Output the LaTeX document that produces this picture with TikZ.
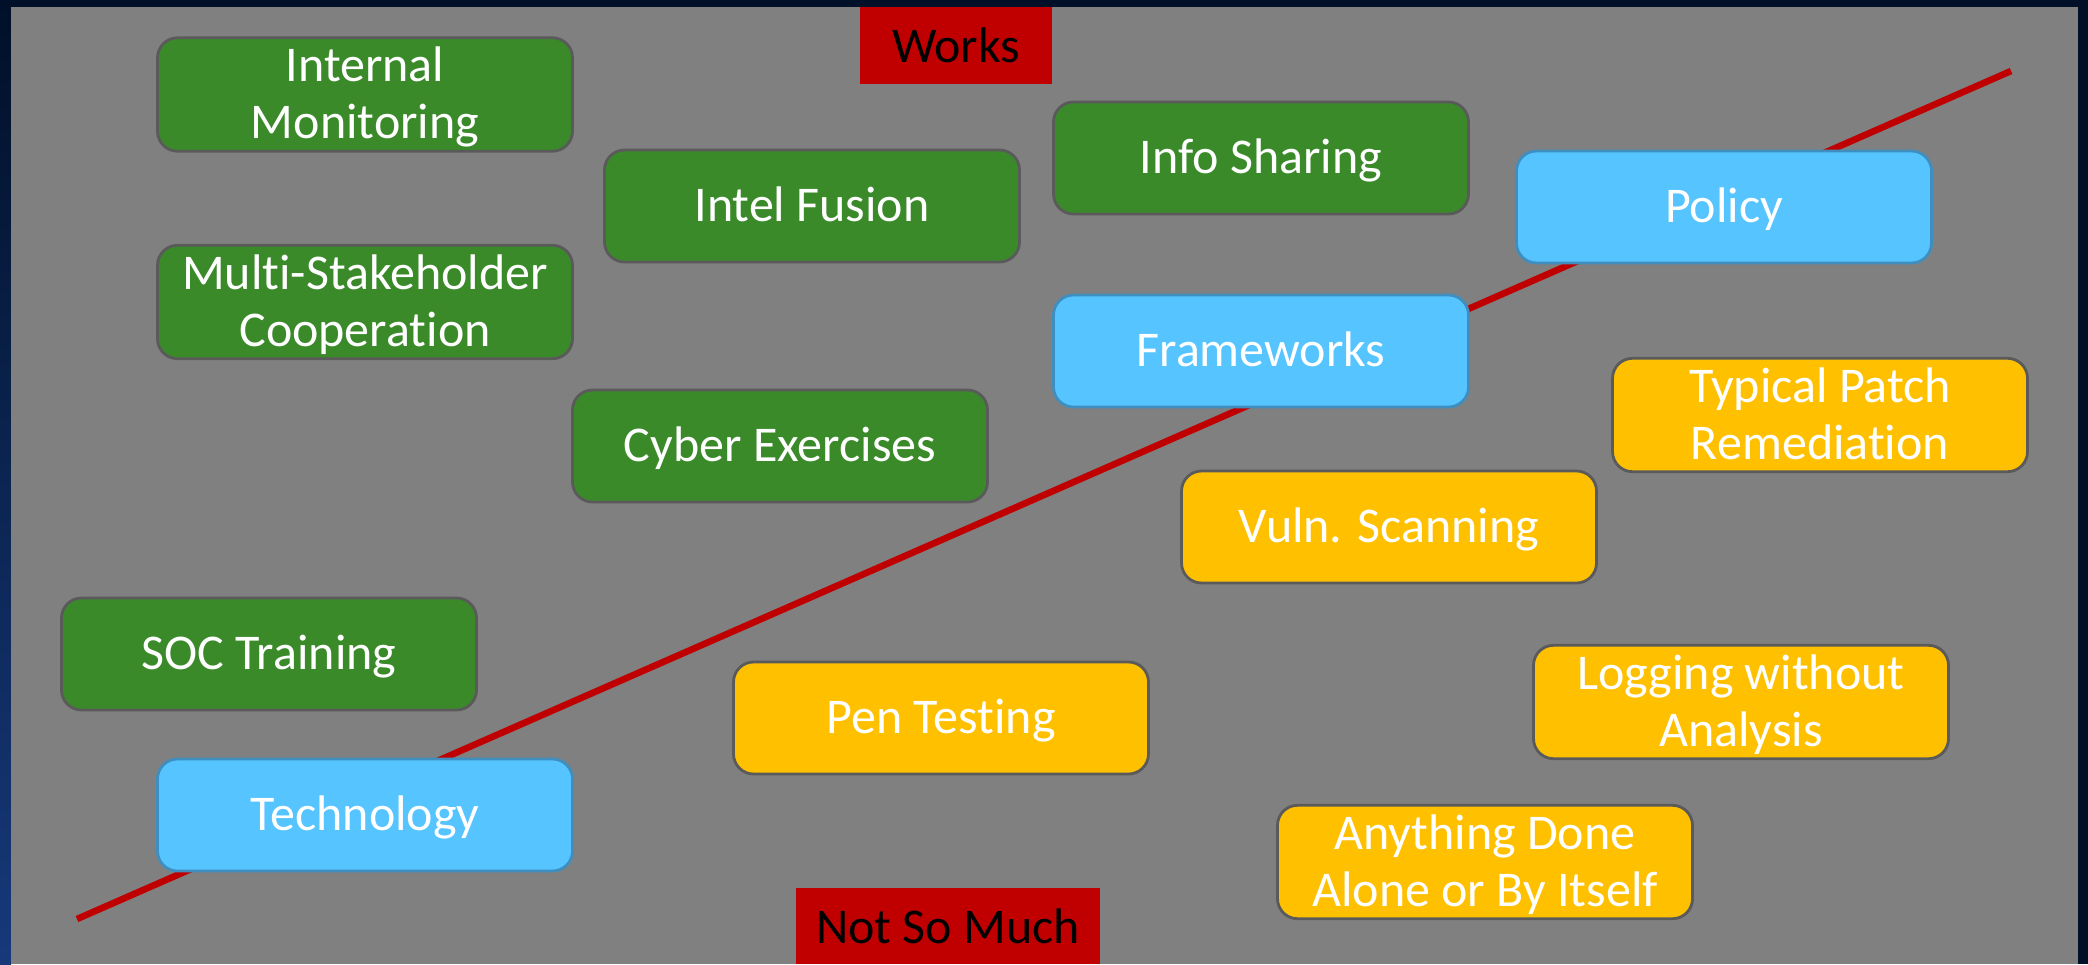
\documentclass[tikz,border=0pt]{standalone}
\usepackage{fontspec}
\setmainfont{Carlito}[Ligatures={NoCommon}]
\definecolor{frame}{HTML}{001028}
\definecolor{frameb}{HTML}{17397A}
\definecolor{panel}{HTML}{808080}
\definecolor{gfill}{HTML}{3A8A2A}
\definecolor{bfill}{HTML}{56C4FF}
\definecolor{bdraw}{HTML}{3E8FC0}
\definecolor{ofill}{HTML}{FFC000}
\definecolor{edge}{HTML}{5A5A5A}
\definecolor{redc}{HTML}{C00000}
\newcommand\ls{\rule[-6.2pt]{0pt}{28.2pt}}
\tikzset{
  box/.style={rounded corners=10pt, line width=1.4pt, minimum width=207.5pt, minimum height=56pt,
    text=white, align=center, font=\fontsize{25}{28.5}\selectfont, inner sep=0pt},
  gbox/.style={box, fill=gfill, draw=edge},
  bbox/.style={box, fill=bfill, draw=bdraw},
  obox/.style={box, fill=ofill, draw=edge},
  tag/.style={fill=redc, text=black, font=\fontsize{25}{28.5}\selectfont, inner sep=0pt}
}
\begin{document}
\begin{tikzpicture}[x=0.5pt,y=-0.5pt]
\fill[frame] (0,0) rectangle (2088,964);
\shade[top color=frame, bottom color=frameb] (0,0) rectangle (11,964);
\fill[panel] (11,7) rectangle (2078,964);
\coordinate (lo) at (77,919);
\coordinate (hi) at (2011,71);
\draw[redc, line width=3.3pt] (lo) -- (hi);
\node[gbox] (im) at (365,94.5) {\ls Internal\\\ls Monitoring};
\node[gbox] (if) at (812,206) {\ls Intel Fusion};
\node[gbox] (is) at (1261,158) {\ls Info Sharing};
\node[bbox] (po) at (1724,207) {\ls Policy};
\node[gbox] (ms) at (365,302) {\ls Multi-Stakeholder\\\ls Cooperation};
\node[bbox] (fw) at (1261,351) {\ls Frameworks};
\node[obox] (tp) at (1820,415) {\ls Typical Patch\\\ls Remediation};
\node[gbox] (ce) at (780,446) {\ls Cyber Exercises};
\node[obox] (vs) at (1389,527) {\ls Vuln. Scanning};
\node[gbox] (so) at (269,654) {\ls SOC Training};
\node[obox] (pt) at (941,718) {\ls Pen Testing};
\node[obox] (lw) at (1741,702) {\ls Logging without\\\ls Analysis};
\node[bbox] (te) at (365,815) {\ls Technology};
\node[obox] (ad) at (1485,862) {\ls Anything Done\\\ls Alone or By Itself};
\node[tag, minimum width=96pt, minimum height=38.5pt] (wk) at (956,45.5) {Works};
\node[tag, minimum width=152pt, minimum height=38pt] (ns) at (948,926) {Not So Much};
\end{tikzpicture}
\end{document}
